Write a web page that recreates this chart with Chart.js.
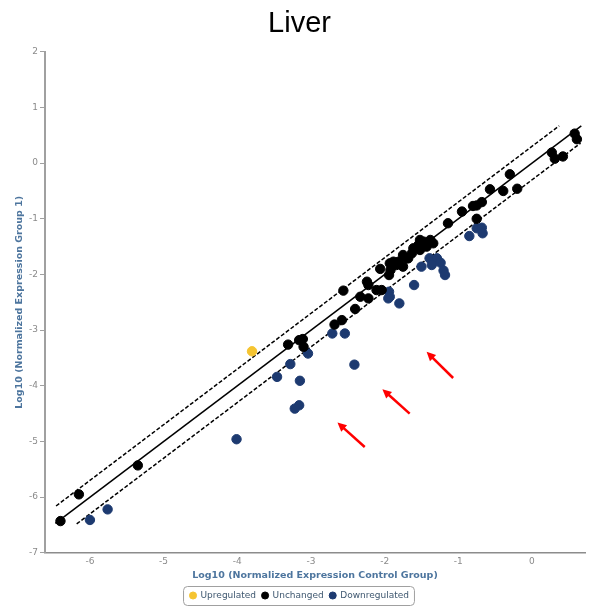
<!DOCTYPE html>
<html>
<head>
<meta charset="utf-8">
<script src="https://cdn.jsdelivr.net/npm/chart.js@4.4.0/dist/chart.umd.min.js"></script>
<style>
  body { margin: 0; background: #fff; }
  canvas { display: block; }
</style>
</head>
<body>
<canvas id="scatter-chart" width="596" height="610"></canvas>
<script>
// values (log10 control, log10 group 1)
const upregulated = [[-3.80, -3.38]];

const unchanged = [
  [-6.40, -6.43], [-6.15, -5.95], [-5.35, -5.43], [-3.31, -3.26], [-3.16, -3.18],
  [-3.11, -3.16], [-3.10, -3.30], [-2.68, -2.90], [-2.58, -2.82], [-2.40, -2.62],
  [-2.56, -2.29], [-2.33, -2.40], [-2.22, -2.43], [-2.22, -2.19], [-2.24, -2.13],
  [-2.11, -2.28], [-2.04, -2.28], [-2.06, -1.90], [-1.94, -2.01], [-1.92, -1.92],
  [-1.84, -1.83], [-1.81, -1.77], [-1.75, -1.86], [-1.70, -1.71], [-1.93, -1.80],
  [-1.88, -1.77], [-1.75, -1.65], [-1.68, -1.71], [-1.63, -1.62], [-1.61, -1.53],
  [-1.52, -1.56], [-1.47, -1.41], [-1.52, -1.38], [-1.38, -1.38], [-1.34, -1.44],
  [-1.43, -1.50], [-1.54, -1.47], [-1.14, -1.08], [-0.95, -0.87], [-0.80, -0.77],
  [-0.75, -0.76], [-0.68, -0.70], [-0.75, -1.00], [-0.57, -0.47], [-0.39, -0.50],
  [-0.20, -0.46], [-0.30, -0.20], [0.27, 0.19], [0.31, 0.08], [0.42, 0.12],
  [0.58, 0.53], [0.61, 0.43]
];

const downregulated = [
  [-6.00, -6.41], [-5.76, -6.22], [-4.01, -4.96], [-3.46, -3.84], [-3.28, -3.61],
  [-3.15, -3.91], [-3.16, -4.35], [-3.22, -4.41], [-3.04, -3.42], [-2.71, -3.06],
  [-2.54, -3.06], [-2.41, -3.62], [-1.94, -2.31], [-1.93, -2.40], [-1.95, -2.43],
  [-1.80, -2.52], [-1.60, -2.19], [-1.50, -1.86], [-1.39, -1.71], [-1.29, -1.71],
  [-1.36, -1.83], [-1.24, -1.79], [-1.20, -1.93], [-1.18, -2.01], [-0.85, -1.31],
  [-0.75, -1.17], [-0.68, -1.16], [-0.67, -1.26]
];

// fold regulation boundary (2-fold) and line extents on the x axis
const foldOffset = Math.log10(2);
const diagonalX = [-6.47, 0.67];
const upperX = [-6.46, 0.37];
const lowerX = [-6.18, 0.66];

const xTickValues = [-6, -5, -4, -3, -2, -1, 0];
const yTickValues = [-7, -6, -5, -4, -3, -2, -1, 0, 1, 2];

// red arrows pasted on the picture: [tailX, tailY, headX, headY]
const arrows = [
  [-2.27, -5.10, -2.64, -4.66],
  [-1.66, -4.50, -2.03, -4.06],
  [-1.07, -3.86, -1.43, -3.39]
];

const toPoints = arr => arr.map(p => ({ x: p[0], y: p[1] }));

const legendBox = {
  id: 'legendBox',
  afterDraw(chart) {
    const boxes = chart.legend.legendHitBoxes;
    if (!boxes || !boxes.length) return;
    const left = Math.min(...boxes.map(b => b.left)) - 7;
    const right = Math.max(...boxes.map(b => b.left + b.width)) + 5;
    const top = boxes[0].top - 5;
    const bottom = boxes[0].top + boxes[0].height + 5;
    const c = chart.ctx;
    c.save();
    c.strokeStyle = '#a0a0a0';
    c.lineWidth = 1;
    c.beginPath();
    c.roundRect(left + 0.5, top + 0.5, right - left, bottom - top, 4);
    c.stroke();
    c.restore();
  }
};

const arrowPlugin = {
  id: 'arrowPlugin',
  afterDatasetsDraw(chart) {
    const xs = chart.scales.x, ys = chart.scales.y, c = chart.ctx;
    c.save();
    c.strokeStyle = '#ff0000';
    c.fillStyle = '#ff0000';
    c.lineWidth = 2.5;
    arrows.forEach(a => {
      const x1 = xs.getPixelForValue(a[0]), y1 = ys.getPixelForValue(a[1]);
      const x2 = xs.getPixelForValue(a[2]), y2 = ys.getPixelForValue(a[3]);
      const ang = Math.atan2(y2 - y1, x2 - x1);
      c.beginPath();
      c.moveTo(x1, y1);
      c.lineTo(x2 - 5 * Math.cos(ang), y2 - 5 * Math.sin(ang));
      c.stroke();
      c.beginPath();
      c.moveTo(x2, y2);
      c.lineTo(x2 - 10 * Math.cos(ang - 0.45), y2 - 10 * Math.sin(ang - 0.45));
      c.lineTo(x2 - 10 * Math.cos(ang + 0.45), y2 - 10 * Math.sin(ang + 0.45));
      c.closePath();
      c.fill();
    });
    c.restore();
  }
};

const tickLabelColor = '#8a8a8a';
const axisTitleColor = '#4d759e';

const ctx = document.getElementById('scatter-chart').getContext('2d');
const chart = new Chart(ctx, {
  type: 'scatter',
  data: {
    datasets: [
      { label: 'Upregulated', data: toPoints(upregulated), backgroundColor: '#f5c431', borderColor: '#f5c431', pointRadius: 4.7, pointHoverRadius: 4.7 },
      { label: 'Unchanged', data: toPoints(unchanged), backgroundColor: '#000000', borderColor: '#000000', pointRadius: 4.7, pointHoverRadius: 4.7 },
      { label: 'Downregulated', data: toPoints(downregulated), backgroundColor: '#1d3a70', borderColor: '#1d3a70', pointRadius: 4.7, pointHoverRadius: 4.7 },
      { type: 'line', label: 'diag', data: diagonalX.map(x => ({ x: x, y: x })), borderColor: '#000', borderWidth: 1.5, pointRadius: 0, fill: false },
      { type: 'line', label: 'upper', data: upperX.map(x => ({ x: x, y: x + foldOffset })), borderColor: '#000', borderWidth: 1.5, borderDash: [4, 2], pointRadius: 0, fill: false },
      { type: 'line', label: 'lower', data: lowerX.map(x => ({ x: x, y: x - foldOffset })), borderColor: '#000', borderWidth: 1.5, borderDash: [4, 2], pointRadius: 0, fill: false }
    ]
  },
  options: {
    responsive: false,
    animation: false,
    layout: { padding: { left: 14, right: 11, top: 0, bottom: 0 } },
    scales: {
      x: {
        type: 'linear',
        min: -6.61,
        max: 0.72,
        afterBuildTicks: s => { s.ticks = xTickValues.map(v => ({ value: v })); },
        grid: { drawOnChartArea: false, drawTicks: false },
        border: { display: true, color: '#8c8c8c', width: 1.5 },
        ticks: { color: tickLabelColor, font: { family: 'DejaVu Sans', size: 9 }, padding: 3 },
        title: { display: true, text: 'Log10 (Normalized Expression Control Group)', color: axisTitleColor, font: { family: 'DejaVu Sans', size: 9.5, weight: 'bold' }, padding: { top: 0, bottom: 4 } }
      },
      y: {
        type: 'linear',
        min: -7,
        max: 2,
        afterBuildTicks: s => { s.ticks = yTickValues.map(v => ({ value: v })); },
        afterFit: s => { s.width = 31; },
        grid: { drawOnChartArea: false, drawTicks: true, tickLength: 5, color: '#a0a0a0' },
        border: { display: true, color: '#a0a0a0', width: 2 },
        ticks: { color: tickLabelColor, font: { family: 'DejaVu Sans', size: 9 }, padding: 2 },
        title: { display: true, text: 'Log10 (Normalized Expression Group 1)', color: axisTitleColor, font: { family: 'DejaVu Sans', size: 9.5, weight: 'bold' }, padding: { top: 0, bottom: 0 } }
      }
    },
    plugins: {
      title: {
        display: true,
        text: 'Liver',
        color: '#000',
        font: { family: 'Liberation Sans', size: 29, weight: 'normal' },
        padding: { top: 7, bottom: 10 }
      },
      legend: {
        position: 'bottom',
        labels: {
          filter: item => item.datasetIndex < 3,
          usePointStyle: true,
          pointStyle: 'circle',
          boxWidth: 6,
          boxHeight: 5,
          padding: 6,
          color: '#3e576f',
          font: { family: 'DejaVu Sans', size: 9 }
        }
      },
      tooltip: { enabled: false }
    }
  },
  plugins: [legendBox, arrowPlugin]
});
</script>
</body>
</html>
